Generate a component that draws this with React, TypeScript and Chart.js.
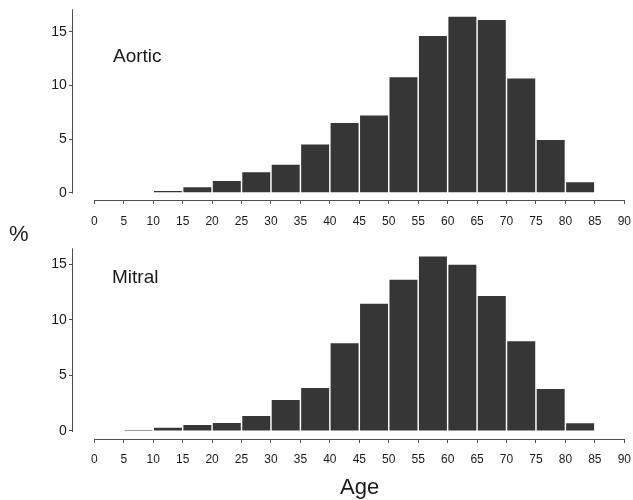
import React, { useEffect, useRef } from "react";
import { Chart, registerables } from "chart.js";

Chart.register(...registerables);

// Age bins (start of each 5-year bin)
const binStarts = [0, 5, 10, 15, 20, 25, 30, 35, 40, 45, 50, 55, 60, 65, 70, 75, 80];
// Percentages per bin
const aorticPct = [0, 0, 0.15, 0.5, 1.1, 1.9, 2.6, 4.5, 6.5, 7.2, 10.75, 14.6, 16.4, 16.1, 10.65, 4.9, 0.97];
const mitralPct = [0.04, 0.08, 0.3, 0.54, 0.72, 1.35, 2.8, 3.87, 7.9, 11.46, 13.6, 15.7, 14.97, 12.15, 8.07, 3.78, 0.69];
// Axis ticks
const xTickValues = [0, 5, 10, 15, 20, 25, 30, 35, 40, 45, 50, 55, 60, 65, 70, 75, 80, 85, 90];
const yTickValues = [0, 5, 10, 15];

const FONT = "'Liberation Sans', Arial, Helvetica, sans-serif";
const AXIS_COLOR = "#505050";
const BAR_COLOR = "#363636";

const axisLines = {
  id: "axisLines",
  afterDraw(chart: any) {
    const { ctx, chartArea, scales } = chart;
    const x = scales.x;
    const y = scales.y;
    ctx.save();
    ctx.strokeStyle = AXIS_COLOR;
    ctx.lineWidth = 1;
    ctx.beginPath();
    const yb = Math.round(chartArea.bottom) + 0.5;
    ctx.moveTo(x.getPixelForValue(xTickValues[0]), yb);
    ctx.lineTo(x.getPixelForValue(xTickValues[xTickValues.length - 1]), yb);
    const xl = Math.round(chartArea.left) - 0.5;
    ctx.moveTo(xl, chartArea.top);
    ctx.lineTo(xl, y.getPixelForValue(0) + 1);
    ctx.stroke();
    ctx.restore();
  },
};

function makeConfig(values: number[], yMin: number, yMax: number, padTop: number, xHeight: number, xLabelPad: number): any {
  return {
    type: "bar",
    data: {
      datasets: [
        {
          data: binStarts.map((s, i) => ({ x: s + 2.5, y: values[i] })),
          backgroundColor: BAR_COLOR,
          borderWidth: 0,
          barPercentage: 0.95,
          categoryPercentage: 1,
        },
      ],
    },
    options: {
      responsive: false,
      animation: false,
      events: [],
      layout: { padding: { left: 0, right: 8.7, top: padTop, bottom: 0 } },
      plugins: { legend: { display: false }, tooltip: { enabled: false }, title: { display: false } },
      scales: {
        x: {
          type: "linear",
          offset: false,
          min: -3.62,
          max: 90,
          afterBuildTicks: (s: any) => {
            s.ticks = xTickValues.map((v) => ({ value: v }));
          },
          afterFit: (s: any) => {
            s.height = xHeight;
            s.paddingLeft = 0;
            s.paddingRight = 0;
          },
          grid: { offset: false, drawOnChartArea: false, drawTicks: true, tickLength: 4, color: AXIS_COLOR },
          border: { display: false },
          ticks: {
            autoSkip: false,
            maxRotation: 0,
            padding: xLabelPad,
            color: "#1a1a1a",
            font: { family: FONT, size: 12 },
            callback: (v: any) => String(v),
          },
        },
        y: {
          type: "linear",
          min: yMin,
          max: yMax,
          afterBuildTicks: (s: any) => {
            s.ticks = yTickValues.map((v) => ({ value: v }));
          },
          afterFit: (s: any) => {
            s.width = 73;
            s.paddingTop = 0;
            s.paddingBottom = 0;
          },
          grid: { drawOnChartArea: false, drawTicks: true, tickLength: 4, color: AXIS_COLOR },
          border: { display: false },
          ticks: {
            padding: 2.3,
            color: "#1a1a1a",
            font: { family: FONT, size: 14 },
            callback: (v: any) => String(v),
          },
        },
      },
    },
    plugins: [axisLines],
  };
}

export default function App() {
  const topRef = useRef<HTMLCanvasElement | null>(null);
  const botRef = useRef<HTMLCanvasElement | null>(null);

  useEffect(() => {
    const c1 = new Chart(topRef.current as HTMLCanvasElement, makeConfig(aorticPct, -0.68, 17.09, 9.3, 36, 10));
    const c2 = new Chart(botRef.current as HTMLCanvasElement, makeConfig(mitralPct, -0.72, 16.44, 12.3, 61, 9));
    return () => {
      c1.destroy();
      c2.destroy();
    };
  }, []);

  const textStyle: React.CSSProperties = {
    position: "absolute",
    fontFamily: FONT,
    lineHeight: 1,
    color: "#1a1a1a",
    whiteSpace: "nowrap",
  };

  return (
    <div style={{ position: "absolute", left: 0, top: 0, width: 633, height: 500, background: "#fff", overflow: "hidden" }}>
      <canvas ref={topRef} width={633} height={236} style={{ position: "absolute", left: 0, top: 0 }} />
      <canvas ref={botRef} width={633} height={264} style={{ position: "absolute", left: 0, top: 236 }} />
      <div style={{ ...textStyle, left: 113, top: 45.6, fontSize: 19 }}>Aortic</div>
      <div style={{ ...textStyle, left: 112, top: 267.2, fontSize: 19 }}>Mitral</div>
      <div style={{ ...textStyle, left: 9, top: 223, fontSize: 22 }}>%</div>
      <div style={{ ...textStyle, left: 340, top: 475.7, fontSize: 22 }}>Age</div>
    </div>
  );
}
